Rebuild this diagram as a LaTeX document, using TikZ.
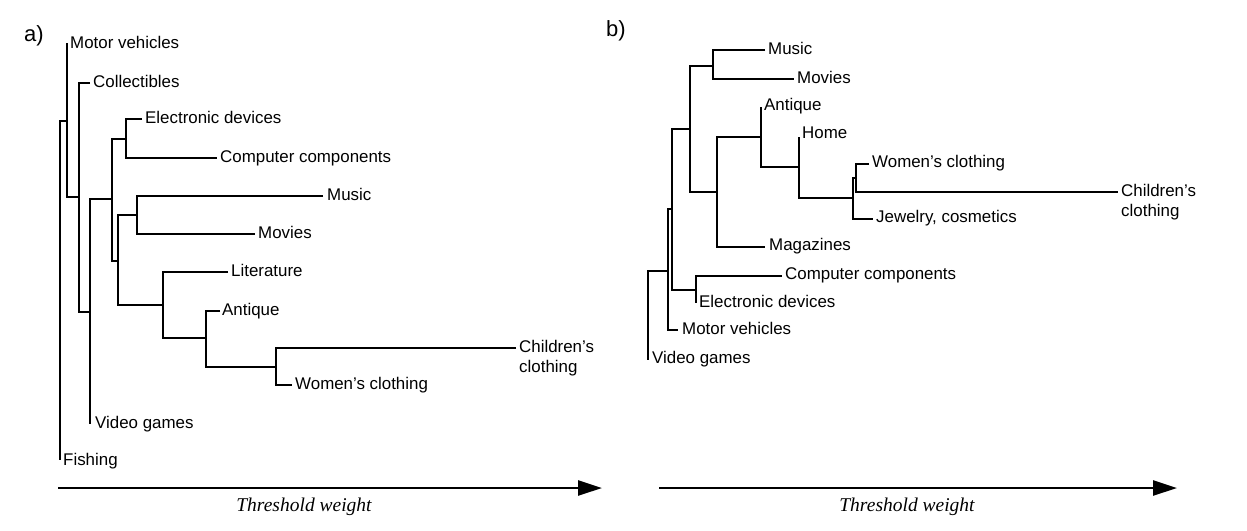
\documentclass[tikz,border=0pt]{standalone}
\usepackage{fontspec}
\setmainfont{Liberation Sans}
\newfontfamily\axisfont{Liberation Serif}
\usetikzlibrary{arrows.meta}
\begin{document}
\begin{tikzpicture}[x=1pt,y=-1pt,
  branch/.style={line width=2.6pt},
  lab/.style={anchor=base west, inner sep=0pt, font=\fontsize{16.9}{20}\selectfont},
  panel/.style={anchor=base west, inner sep=0pt, font=\fontsize{22}{26}\selectfont},
  axislab/.style={anchor=base, inner sep=0pt, font=\fontsize{19.5}{22}\selectfont\axisfont\itshape},
  axisarrow/.style={line width=2.7pt, -{Triangle[length=24pt,width=15pt]}}]
\useasboundingbox (0,0) rectangle (1247,530);

% ---------- panel a ----------
\node[panel] (pa) at (24,41) {a)};
\coordinate (aMotE) at (67,43);  \node[lab] (aMot) at (70,48) {Motor vehicles};
\coordinate (aColE) at (90,83);  \node[lab] (aCol) at (93,87) {Collectibles};
\coordinate (aEleE) at (142,119); \node[lab] (aEle) at (145,123) {Electronic devices};
\coordinate (aComE) at (217,158); \node[lab] (aCom) at (220,162) {Computer components};
\coordinate (aMusE) at (323,196); \node[lab] (aMus) at (327,200) {Music};
\coordinate (aMovE) at (255,234); \node[lab] (aMov) at (258,238) {Movies};
\coordinate (aLitE) at (228,272); \node[lab] (aLit) at (231,276) {Literature};
\coordinate (aAntE) at (220,311); \node[lab] (aAnt) at (222,315) {Antique};
\coordinate (aChiE) at (516,348); \node[lab] (aChi) at (519,352) {Children’s};
\node[lab] (aChi2) at (519,372) {clothing};
\coordinate (aWomE) at (292,385); \node[lab] (aWom) at (295,389) {Women’s clothing};
\coordinate (aVidE) at (90,424); \node[lab] (aVid) at (95,428) {Video games};
\coordinate (aFisE) at (60,460); \node[lab] (aFis) at (63,465) {Fishing};

\coordinate (a1) at (126,139);
\coordinate (a2) at (137,215);
\coordinate (a5) at (276,367);
\coordinate (a4) at (206,338);
\coordinate (a3) at (163,305);
\coordinate (a6) at (118,261);
\coordinate (a7) at (112,199);
\coordinate (a8) at (90,312);
\coordinate (a9) at (79,197);
\coordinate (a10) at (67,121);
\coordinate (a11) at (60,121);

\draw[branch] (aEleE) -| (a1) |- (aComE);
\draw[branch] (aMusE) -| (a2) |- (aMovE);
\draw[branch] (aChiE) -| (a5) |- (aWomE);
\draw[branch] (aAntE) -| (a4) |- (a5);
\draw[branch] (aLitE) -| (a3) |- (a4);
\draw[branch] (a2) -| (a6) |- (a3);
\draw[branch] (a1) -| (a7) |- (a6);
\draw[branch] (a7) -| (a8) |- (aVidE);
\draw[branch] (aColE) -| (a9) |- (a8);
\draw[branch] (aMotE) -| (a10) |- (a9);
\draw[branch] (a10) -| (a11) |- (aFisE);

\coordinate (aAx0) at (58,488);
\coordinate (aAx1) at (602,488);
\draw[axisarrow] (aAx0) -- (aAx1);
\node[axislab] (aT) at (304,511) {Threshold weight};

% ---------- panel b ----------
\node[panel] (pb) at (606,36) {b)};
\coordinate (bMusE) at (765,50);  \node[lab] (bMus) at (768,54) {Music};
\coordinate (bMovE) at (794,79);  \node[lab] (bMov) at (797,83) {Movies};
\coordinate (bAntE) at (761,107); \node[lab] (bAnt) at (764,110) {Antique};
\coordinate (bHomE) at (799,137); \node[lab] (bHom) at (802,138) {Home};
\coordinate (bWomE) at (869,164); \node[lab] (bWom) at (872,167) {Women’s clothing};
\coordinate (bChiE) at (1118,192); \node[lab] (bChi) at (1121,196) {Children’s};
\node[lab] (bChi2) at (1121,216) {clothing};
\coordinate (bJewE) at (873,219); \node[lab] (bJew) at (876,222) {Jewelry, cosmetics};
\coordinate (bMagE) at (765,247); \node[lab] (bMag) at (769,250) {Magazines};
\coordinate (bComE) at (782,276); \node[lab] (bCom) at (785,279) {Computer components};
\coordinate (bEleE) at (696,303); \node[lab] (bEle) at (699,307) {Electronic devices};
\coordinate (bMotE) at (678,330); \node[lab] (bMot) at (682,334) {Motor vehicles};
\coordinate (bVidE) at (648,360); \node[lab] (bVid) at (652,363) {Video games};

\coordinate (b1) at (713,66);
\coordinate (b2) at (856,178);
\coordinate (b3) at (853,198);
\coordinate (b4) at (799,167);
\coordinate (b5) at (761,137);
\coordinate (b6) at (717,192);
\coordinate (b7) at (690,129);
\coordinate (b8) at (696,290);
\coordinate (b9) at (672,209);
\coordinate (b10) at (668,271);
\coordinate (b11) at (648,271);

\draw[branch] (bMusE) -| (b1) |- (bMovE);
\draw[branch] (bWomE) -| (b2) |- (bChiE);
\draw[branch] (b2) -| (b3) |- (bJewE);
\draw[branch] (bHomE) -| (b4) |- (b3);
\draw[branch] (bAntE) -| (b5) |- (b4);
\draw[branch] (b5) -| (b6) |- (bMagE);
\draw[branch] (b1) -| (b7) |- (b6);
\draw[branch] (bComE) -| (b8) |- (bEleE);
\draw[branch] (b7) -| (b9) |- (b8);
\draw[branch] (b9) -| (b10) |- (bMotE);
\draw[branch] (b10) -| (b11) |- (bVidE);

\coordinate (bAx0) at (659,488);
\coordinate (bAx1) at (1177,488);
\draw[axisarrow] (bAx0) -- (bAx1);
\node[axislab] (bT) at (907,511) {Threshold weight};
\end{tikzpicture}
\end{document}
